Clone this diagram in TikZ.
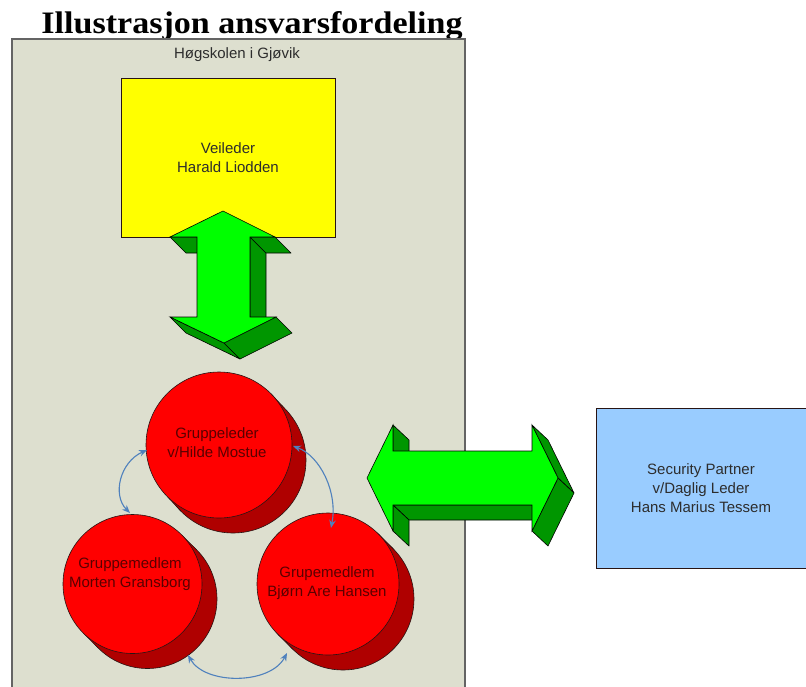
\documentclass[tikz,border=0pt]{standalone}
\usepackage{fontspec}
\setmainfont{Liberation Sans}
\newfontfamily\titlefont{Liberation Serif}
\usetikzlibrary{arrows.meta,calc}
\definecolor{panelfill}{RGB}{221,223,207}
\definecolor{panelline}{RGB}{100,100,100}
\definecolor{boxyellow}{RGB}{255,255,0}
\definecolor{boxblue}{RGB}{153,204,255}
\definecolor{gfront}{RGB}{0,255,0}
\definecolor{gside}{RGB}{0,150,0}
\definecolor{rfront}{RGB}{255,0,0}
\definecolor{rside}{RGB}{175,0,0}
\definecolor{linkblue}{RGB}{79,129,189}
\definecolor{redtext}{RGB}{90,0,0}
\definecolor{darktext}{RGB}{45,45,45}
\definecolor{edgedark}{RGB}{40,20,20}
\begin{document}
\begin{tikzpicture}[x=1pt,y=-1pt,
  every node/.style={inner sep=0pt,outer sep=0pt},
  lbl/.style={font=\fontsize{15}{19}\selectfont, text=darktext, align=center},
  disctext/.style={font=\fontsize{15}{19}\selectfont, text=redtext, align=center},
  boxstyle/.style={rectangle, draw=edgedark, line width=0.9pt},
  gface/.style={fill=gfront, draw=black, line width=0.6pt, line join=miter},
  gsideface/.style={fill=gside, draw=black, line width=0.6pt, line join=round},
  disc/.style={circle, fill=rfront, draw=edgedark, line width=0.6pt},
  discside/.style={circle, fill=rside, draw=edgedark, line width=0.6pt},
  link/.style={draw=linkblue, line width=1.1pt, {Stealth[length=8pt,width=6.5pt]}-{Stealth[length=8pt,width=6.5pt]}},
]
\useasboundingbox (0,0) rectangle (806,686);
\clip (0,0) rectangle (806,686);
\fill[white] (0,0) rectangle (806,686);

% title
\node[anchor=base] (title) at (252,33) {\resizebox{421pt}{22pt}{\titlefont\bfseries Illustrasjon ansvarsfordeling}};

% panel
\node[rectangle, draw=panelline, fill=panelfill, line width=1.2pt, anchor=north west,
      minimum width=453pt, minimum height=680pt] (panel) at (12,39) {};
\node[lbl] (hig) at (237,55) {Høgskolen i Gjøvik};

% yellow box
\node[boxstyle, fill=boxyellow, minimum width=214pt, minimum height=159pt, lbl] (veil) at (228,157.5) {Veileder\\Harald Liodden};

% blue box
\node[boxstyle, fill=boxblue, minimum width=210pt, minimum height=160pt, lbl] (partner) at (701,488)
  {Security Partner\\v/Daglig Leder\\Hans Marius Tessem};

% vertical 3D arrow
\coordinate (vT) at (223,211);
\coordinate (vHR) at (275,237);
\coordinate (vSR1) at (250,237);
\coordinate (vSR2) at (250,317);
\coordinate (vBR) at (276,317);
\coordinate (vB) at (224,343);
\coordinate (vBL) at (170,317);
\coordinate (vSL2) at (197,317);
\coordinate (vSL1) at (197,237);
\coordinate (vHL) at (170,237);
\draw[gsideface] (vSR1) -- (vSR2) -- ($(vSR2)+(16,16)$) -- ($(vSR1)+(16,16)$) -- cycle;
\draw[gsideface] (vHR) -- (vSR1) -- ($(vSR1)+(16,16)$) -- ($(vHR)+(16,16)$) -- cycle;
\draw[gsideface] (vB) -- (vBL) -- ($(vBL)+(16,16)$) -- ($(vB)+(16,16)$) -- cycle;
\draw[gsideface] (vBR) -- (vB) -- ($(vB)+(16,16)$) -- ($(vBR)+(16,16)$) -- cycle;
\draw[gsideface] (vSL1) -- (vHL) -- ($(vHL)+(16,16)$) -- ($(vSL1)+(16,16)$) -- cycle;
\draw[gface] (vT) -- (vHR) -- (vSR1) -- (vSR2) -- (vBR) -- (vB) -- (vBL) -- (vSL2) -- (vSL1) -- (vHL) -- cycle;

% horizontal 3D arrow
\coordinate (hL) at (367,478);
\coordinate (hLT) at (393,425);
\coordinate (hST1) at (393,451);
\coordinate (hST2) at (532,451);
\coordinate (hRT) at (532,425);
\coordinate (hR) at (558,478);
\coordinate (hRB) at (532,531);
\coordinate (hSB2) at (532,505);
\coordinate (hSB1) at (393,505);
\coordinate (hLB) at (393,531);
\draw[gsideface] (hSB2) -- (hSB1) -- ($(hSB1)+(16,15)$) -- ($(hSB2)+(16,15)$) -- cycle;
\draw[gsideface] (hSB1) -- (hLB) -- ($(hLB)+(16,15)$) -- ($(hSB1)+(16,15)$) -- cycle;
\draw[gsideface] (hLT) -- (hST1) -- ($(hST1)+(16,15)$) -- ($(hLT)+(16,15)$) -- cycle;
\draw[gsideface] (hRT) -- (hR) -- ($(hR)+(16,15)$) -- ($(hRT)+(16,15)$) -- cycle;
\draw[gsideface] (hR) -- (hRB) -- ($(hRB)+(16,15)$) -- ($(hR)+(16,15)$) -- cycle;
\draw[gface] (hL) -- (hLT) -- (hST1) -- (hST2) -- (hRT) -- (hR) -- (hRB) -- (hSB2) -- (hSB1) -- (hLB) -- cycle;

% circle 1 (top)
\coordinate (c1c) at (219,445);
\node[discside, minimum size=146pt] (c1s) at ($(c1c)+(14,15)$) {};
\fill[rside] ($(c1c)+(51.6,-51.6)$) -- ($(c1c)+(65.6,-36.6)$) -- ($(c1c)+(-37.6,66.6)$) -- ($(c1c)+(-51.6,51.6)$) -- cycle;
\draw[edgedark, line width=0.6pt] ($(c1c)+(51.6,-51.6)$) -- ++(14,15) ($(c1c)+(-51.6,51.6)$) -- ++(14,15);
\node[disc, minimum size=146pt] (c1) at (c1c) {};
\node[disctext] (t1) at (217,442.5) {Gruppeleder\\v/Hilde Mostue};

% circle 2 (left)
\coordinate (c2c) at (132.5,584);
\node[discside, minimum size=139pt] (c2s) at ($(c2c)+(15,15)$) {};
\fill[rside] ($(c2c)+(49.1,-49.1)$) -- ($(c2c)+(64.1,-34.1)$) -- ($(c2c)+(-34.1,64.1)$) -- ($(c2c)+(-49.1,49.1)$) -- cycle;
\draw[edgedark, line width=0.6pt] ($(c2c)+(49.1,-49.1)$) -- ++(15,15) ($(c2c)+(-49.1,49.1)$) -- ++(15,15);
\node[disc, minimum size=139pt] (c2) at (c2c) {};
\node[disctext] (t2) at (130,574) {Gruppemedlem\\Morten Gransborg};

% circle 3 (right)
\coordinate (c3c) at (328,584);
\node[discside, minimum size=142pt] (c3s) at ($(c3c)+(15,15)$) {};
\fill[rside] ($(c3c)+(50.2,-50.2)$) -- ($(c3c)+(65.2,-35.2)$) -- ($(c3c)+(-35.2,65.2)$) -- ($(c3c)+(-50.2,50.2)$) -- cycle;
\draw[edgedark, line width=0.6pt] ($(c3c)+(50.2,-50.2)$) -- ++(15,15) ($(c3c)+(-50.2,50.2)$) -- ++(15,15);
\node[disc, minimum size=142pt] (c3) at (c3c) {};
\node[disctext] (t3) at (327,583.5) {Grupemedlem\\Bjørn Are Hansen};

% blue links
\coordinate (l1a) at (147,450);
\coordinate (l1b) at (130,513);
\draw[link] (l1a) .. controls (120,462) and (112,495) .. (l1b);
\coordinate (l2a) at (293,446);
\coordinate (l2b) at (331,528);
\draw[link] (l2a) .. controls (320,456) and (338,492) .. (l2b);
\coordinate (l3a) at (188,655);
\coordinate (l3b) at (287,653);
\draw[link] (l3a) .. controls (205,685) and (270,685) .. (l3b);
\end{tikzpicture}
\end{document}
